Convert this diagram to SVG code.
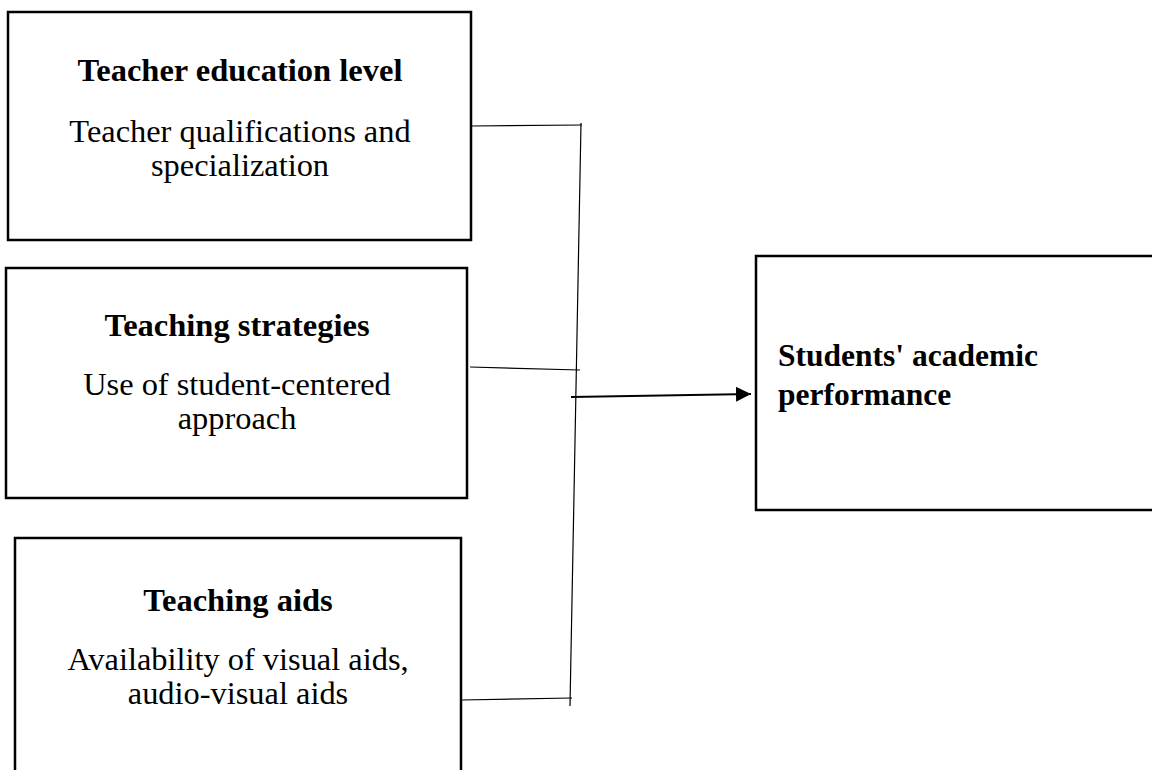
<svg xmlns="http://www.w3.org/2000/svg" width="1152" height="770" viewBox="0 0 1152 770">
  <style>
    .box { fill: #ffffff; stroke: #000000; stroke-width: 2.5; }
    .title { font-family: "Liberation Serif", "Times New Roman", serif; font-weight: bold; font-size: 32.5px; fill: #000; text-anchor: middle; }
    .body { font-family: "Liberation Serif", "Times New Roman", serif; font-size: 32.4px; fill: #000; text-anchor: middle; }
    .outcome { font-family: "Liberation Serif", "Times New Roman", serif; font-weight: bold; font-size: 31.5px; fill: #000; }
    .link { fill: none; stroke: #000; stroke-width: 1.2; }
    .main { fill: none; stroke: #000; stroke-width: 2.2; }
  </style>
  <defs>
    <marker id="arrow" markerWidth="15" markerHeight="15" refX="15" refY="7.5" orient="auto" markerUnits="userSpaceOnUse" viewBox="0 0 15 15">
      <path d="M0,0 L15,7.5 L0,15 z" fill="#000"/>
    </marker>
  </defs>
  <rect width="1152" height="770" fill="#ffffff"/>

  <g id="teacher-education">
    <rect class="box" x="8" y="12" width="463" height="228"/>
    <text class="title" x="240" y="81">Teacher education level</text>
    <text class="body" x="240" y="142">Teacher qualifications and</text>
    <text class="body" x="240" y="176">specialization</text>
  </g>

  <g id="teaching-strategies">
    <rect class="box" x="6" y="268" width="461" height="230"/>
    <text class="title" x="237" y="336">Teaching strategies</text>
    <text class="body" x="237" y="395">Use of student-centered</text>
    <text class="body" x="237" y="429">approach</text>
  </g>

  <g id="teaching-aids">
    <rect class="box" x="15" y="538" width="446" height="240"/>
    <text class="title" x="238" y="611">Teaching aids</text>
    <text class="body" x="238" y="670">Availability of visual aids,</text>
    <text class="body" x="238" y="704">audio-visual aids</text>
  </g>

  <g id="academic-performance">
    <rect class="box" x="756" y="256" width="410" height="254"/>
    <text class="outcome" x="778" y="366">Students' academic</text>
    <text class="outcome" x="778" y="405">performance</text>
  </g>

  <g id="connectors">
    <path class="link" d="M581,123 L570,706"/>
    <path class="link" d="M471,126 L582,125"/>
    <path class="link" d="M470,367 L580,370"/>
    <path class="link" d="M461,700 L572,698"/>
    <path class="main" d="M571,397 L751,394" marker-end="url(#arrow)"/>
  </g>
</svg>
